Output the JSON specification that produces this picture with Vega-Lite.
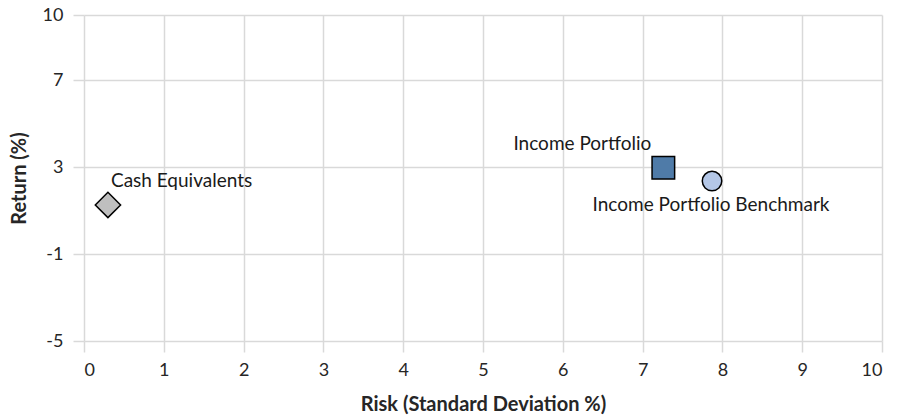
{
  "$schema": "https://vega.github.io/schema/vega-lite/v6.json",
  "width": 798,
  "height": 326,
  "autosize": {"type": "none"},
  "padding": {"left": 84, "top": 15, "right": 23, "bottom": 74},
  "background": "white",
  "config": {
    "view": {"stroke": null},
    "font": "Lato",
    "axis": {
      "gridColor": "#d9d9d9",
      "gridWidth": 1.5,
      "tickColor": "#d9d9d9",
      "tickWidth": 1.5,
      "tickSize": 11,
      "domain": false,
      "labelFont": "Lato",
      "labelFontSize": 18,
      "labelColor": "#262626",
      "titleFont": "Lato",
      "titleFontSize": 20,
      "titleFontWeight": "bold",
      "titleColor": "#262626"
    }
  },
  "data": {
    "values": [
      {"name": "Cash Equivalents", "risk": 0.3, "ret": 1.26},
      {"name": "Income Portfolio", "risk": 7.26, "ret": 2.97},
      {"name": "Income Portfolio Benchmark", "risk": 7.87, "ret": 2.36}
    ]
  },
  "encoding": {
    "x": {
      "field": "risk",
      "type": "quantitative",
      "scale": {"domain": [0, 10], "nice": false, "zero": false},
      "axis": {
        "values": [0, 1, 2, 3, 4, 5, 6, 7, 8, 9, 10],
        "title": "Risk (Standard Deviation %)",
        "labelPadding": 9,
        "titlePadding": 15
      }
    },
    "y": {
      "field": "ret",
      "type": "quantitative",
      "scale": {"domain": [-5, 10], "nice": false, "zero": false},
      "axis": {
        "values": [-5, -1, 3, 7, 10],
        "labelExpr": "'' + datum.value",
        "title": "Return (%)",
        "labelPadding": 10,
        "titlePadding": 13
      }
    }
  },
  "layer": [
    {
      "mark": {"type": "point", "filled": true, "stroke": "black", "strokeWidth": 1.5, "opacity": 1},
      "encoding": {
        "shape": {
          "field": "name",
          "type": "nominal",
          "scale": {
            "domain": ["Cash Equivalents", "Income Portfolio", "Income Portfolio Benchmark"],
            "range": ["diamond", "square", "circle"]
          },
          "legend": null
        },
        "fill": {
          "field": "name",
          "type": "nominal",
          "scale": {
            "domain": ["Cash Equivalents", "Income Portfolio", "Income Portfolio Benchmark"],
            "range": ["#bfbfbf", "#4f7ba8", "#b4c7e7"]
          },
          "legend": null
        },
        "size": {
          "field": "name",
          "type": "nominal",
          "scale": {
            "domain": ["Cash Equivalents", "Income Portfolio", "Income Portfolio Benchmark"],
            "range": [640, 380, 340]
          },
          "legend": null
        }
      }
    },
    {
      "transform": [{"filter": "datum.name === 'Cash Equivalents'"}],
      "mark": {"type": "text", "align": "left", "baseline": "middle", "dx": 3, "dy": -24, "fontSize": 19, "font": "Lato", "color": "#1a1a1a"},
      "encoding": {"text": {"field": "name"}}
    },
    {
      "transform": [{"filter": "datum.name === 'Income Portfolio'"}],
      "mark": {"type": "text", "align": "right", "baseline": "middle", "dx": -12, "dy": -24, "fontSize": 19, "font": "Lato", "color": "#1a1a1a"},
      "encoding": {"text": {"field": "name"}}
    },
    {
      "transform": [{"filter": "datum.name === 'Income Portfolio Benchmark'"}],
      "mark": {"type": "text", "align": "center", "baseline": "middle", "dx": -1, "dy": 24, "fontSize": 19, "font": "Lato", "color": "#1a1a1a"},
      "encoding": {"text": {"field": "name"}}
    }
  ]
}
